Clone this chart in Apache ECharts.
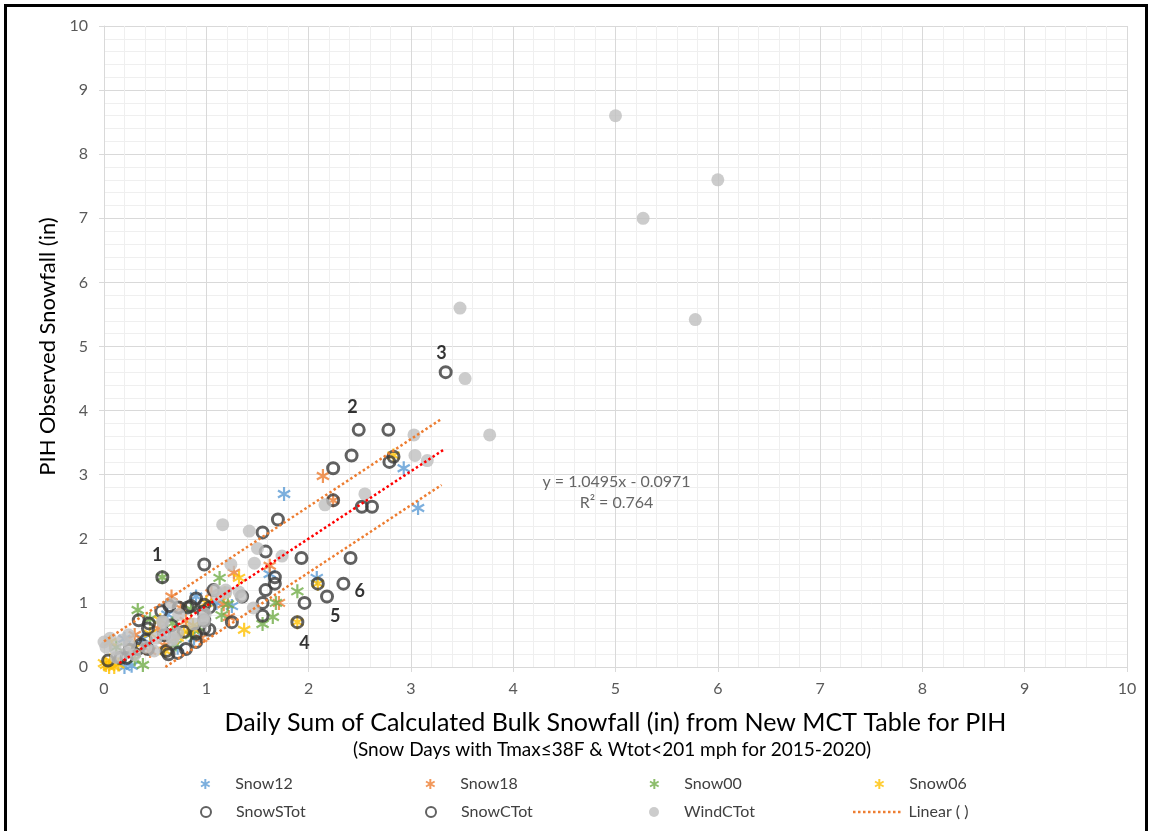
<!DOCTYPE html>
<html>
<head>
<meta charset="utf-8">
<script src="https://cdn.jsdelivr.net/npm/echarts@6/dist/echarts.min.js"></script>
<style>
html,body{margin:0;padding:0;background:#fff;}
#chart{width:1149px;height:831px;}
</style>
</head>
<body>
<div id="chart"></div>
<script>
// ---- data ----
const xTicks = [0,1,2,3,4,5,6,7,8,9,10];
const yTicks = [0,1,2,3,4,5,6,7,8,9,10];

const snow12 = [[2.93,3.1],[3.07,2.48],[1.76,2.7],[2.08,1.39],[0.9,1.1],[1.62,1.45],[0.88,0.45],[0.38,0.44],[0.2,0.44],[0.57,0.5],[0.2,0.0],[0.27,0.02],[1.1,1.0],[0.62,0.82],[1.25,0.95],[0.72,0.3]];
const snow18 = [[2.14,2.98],[2.24,2.6],[1.62,1.58],[1.27,1.47],[1.71,1.0],[1.17,0.98],[1.22,0.78],[0.66,1.1],[0.53,0.6],[0.59,0.34],[0.8,0.72],[0.3,0.5],[0.45,0.25],[0.95,0.45],[0.75,0.92],[1.05,1.15]];
const snow00 = [[0.57,1.4],[1.13,1.39],[1.89,1.18],[1.68,1.0],[1.65,0.78],[1.55,0.67],[1.21,0.98],[1.15,0.81],[0.33,0.89],[0.85,0.9],[0.85,0.5],[0.67,0.68],[0.38,0.03],[0.12,0.31],[0.7,0.35],[0.45,0.75],[0.92,0.62],[0.3,0.12]];
const snow06 = [[2.83,3.3],[2.09,1.3],[1.89,0.7],[1.37,0.58],[1.32,1.39],[0.87,0.6],[0.02,0.03],[0.05,0.0],[0.0,0.06],[0.1,0.0],[0.14,0.04],[0.06,0.1],[0.06,0.39],[0.55,0.73],[0.87,0.65],[0.72,0.46],[1.0,1.0],[0.45,0.52],[0.3,0.3],[0.78,0.55],[1.18,1.15],[0.6,0.25]];
const snowSTot = [[1.07,1.2],[0.9,1.07],[0.98,0.97],[1.03,0.58],[0.98,0.6],[0.98,0.73],[0.97,0.86],[0.34,0.73],[0.44,0.68],[0.43,0.6],[0.56,0.87],[0.73,0.93],[0.82,0.93],[0.66,0.65],[0.41,0.42],[0.36,0.35],[0.33,0.28],[0.43,0.28],[0.61,0.25],[0.63,0.2],[0.72,0.22],[0.8,0.28],[0.78,0.55],[0.9,0.52],[0.9,0.39],[0.04,0.1],[0.16,0.14],[0.22,0.14],[0.25,0.27],[0.59,0.5],[0.64,0.95],[0.85,0.95],[1.03,0.93]];
const snowCTot = [[3.34,4.6],[2.49,3.7],[2.78,3.7],[2.42,3.3],[2.24,3.1],[2.83,3.28],[2.79,3.2],[2.24,2.6],[2.52,2.5],[2.62,2.5],[1.7,2.3],[1.55,2.1],[1.58,1.8],[1.93,1.7],[2.41,1.7],[0.98,1.6],[1.67,1.4],[1.67,1.3],[1.58,1.2],[2.09,1.3],[2.34,1.3],[2.18,1.1],[1.96,1.0],[1.55,1.0],[1.55,0.8],[1.89,0.7],[1.25,0.7],[1.35,1.1],[0.57,1.4]];
const windCTot = [[5.0,8.6],[5.27,7.0],[6.0,7.6],[5.78,5.42],[3.48,5.6],[3.53,4.5],[3.77,3.62],[3.03,3.62],[3.04,3.3],[3.16,3.22],[2.16,2.53],[2.55,2.7],[1.16,2.22],[1.42,2.12],[1.5,1.85],[1.47,1.62],[1.74,1.73],[1.24,1.6],[1.09,1.2],[1.19,1.2],[1.32,1.17],[1.34,1.1],[1.19,1.16],[1.11,1.12],[1.46,0.92],[0.73,0.82],[0.57,0.71],[0.99,0.83],[0.98,0.71],[0.68,0.45],[0.0,0.39],[0.06,0.45],[0.18,0.42],[0.24,0.5],[0.11,0.28],[0.22,0.22],[0.3,0.19],[0.02,0.31],[0.58,0.7],[0.51,0.45],[0.67,0.42],[0.72,0.53],[0.59,0.52],[0.41,0.31],[0.49,0.25],[0.66,1.0],[0.88,0.67],[0.97,0.75],[0.12,0.15],[0.25,0.35]];

// trend line end points
const trendCenter = [[0.15,0.06],[3.33,3.4]];
const trendUpper = [[0.0,0.4],[3.29,3.86]];
const trendLower = [[0.6,0.0],[3.3,2.84]];

// annotations
const pointLabels = [[0.52,1.75,'1'],[2.43,4.05,'2'],[3.3,4.89,'3'],[1.96,0.37,'4'],[2.26,0.8,'5'],[2.5,1.19,'6']];
const equationLabels = [[5.01,2.89,'y = 1.0495x - 0.0971'],[5.01,2.56,'R² = 0.764']];

const xTitle = 'Daily Sum of Calculated Bulk Snowfall (in) from New MCT Table for PIH';
const xSubtitle = '(Snow Days with Tmax≤38F & Wtot<201 mph for 2015-2020)';
const yTitle = 'PIH Observed Snowfall (in)';

// ---- styling ----
const FONT = 'Lato, "Open Sans", sans-serif';
const ASTER = 'path://M5,0L5,10M0.67,2.5L9.33,7.5M0.67,7.5L9.33,2.5';
const DOTS = 'path://' + Array.from({length:10}, (_, i) => 'M' + (i*5) + ',0h2.5v2.5h-2.5z').join('');

function starSeries(name, data, color){
  return {name, type:'scatter', data, symbol:ASTER, symbolSize:14, symbolKeepAspect:true,
    itemStyle:{color:'rgba(0,0,0,0)', borderColor:color, borderWidth:2.2}};
}
function ringSeries(name, data){
  return {name, type:'scatter', data, symbol:'circle', symbolSize:11,
    itemStyle:{color:'rgba(0,0,0,0)', borderColor:'#3A3A3A', borderWidth:3}};
}

const series = [
  starSeries('Snow12', snow12, '#5B9BD5'),
  starSeries('Snow18', snow18, '#ED7D31'),
  starSeries('Snow00', snow00, '#70AD47'),
  starSeries('Snow06', snow06, '#FFC000'),
  ringSeries('SnowSTot', snowSTot),
  ringSeries('SnowCTot', snowCTot),
  {name:'WindCTot', type:'scatter', data:windCTot, symbol:'circle', symbolSize:13,
    itemStyle:{color:'#BFBFBF'}},
  {name:'Linear ( )', type:'line', data:trendUpper, symbol:'none', silent:true,
    lineStyle:{color:'#ED7D31', width:2.5, type:[2.5,2.5], cap:'butt'}, itemStyle:{color:'#ED7D31'}},
  {name:'Linear ( )', type:'line', data:trendLower, symbol:'none', silent:true,
    lineStyle:{color:'#ED7D31', width:2.5, type:[2.5,2.5], cap:'butt'}, itemStyle:{color:'#ED7D31'}},
  {name:'trend', type:'line', data:trendCenter, symbol:'none', silent:true,
    lineStyle:{color:'#FF0000', width:2.5, type:[2.5,2.5], cap:'butt'}},
  {name:'labels', type:'scatter', symbolSize:0, silent:true, z:5,
    data:pointLabels.map(d=>({value:[d[0],d[1]], name:d[2]})),
    label:{show:true, formatter:p=>p.name, position:'inside', color:'#000', fontSize:18, fontWeight:'bold', fontFamily:FONT}},
  {name:'equation', type:'scatter', symbolSize:0, silent:true,
    data:equationLabels.map(d=>({value:[d[0],d[1]], name:d[2]})),
    label:{show:true, formatter:p=>p.name, position:'inside', color:'#404040', fontSize:16, fontFamily:FONT}}
];

const legendCols = [205, 430, 654, 879];
const legendRows = [776, 804];
const legendItems = [['Snow12',0,0],['Snow18',1,0],['Snow00',2,0],['Snow06',3,0],
                     ['SnowSTot',0,1],['SnowCTot',1,1],['WindCTot',2,1]];
const legends = legendItems.map(([n,c,r])=>({
  data:[n], left:legendCols[c]-5, top:legendRows[r], padding:0,
  itemWidth:10, itemHeight:10, selectedMode:false,
  textStyle:{color:'#404040', fontSize:16, fontFamily:FONT, padding:[0,0,0,20]}
}));
legends.push({data:[{name:'Linear ( )', icon:DOTS}], left:853, top:legendRows[1], padding:0,
  itemWidth:47.5, itemHeight:2.5, selectedMode:false,
  textStyle:{color:'#404040', fontSize:16, fontFamily:FONT, padding:[0,0,0,3]}});

const axisCommon = {
  min:0, max:10, interval:1,
  axisLine:{show:true, lineStyle:{color:'#D9D9D9', width:1}},
  axisTick:{show:true, length:5, lineStyle:{color:'#D9D9D9'}},
  splitLine:{show:true, lineStyle:{color:'#D9D9D9', width:1}},
  minorTick:{show:false, splitNumber:5},
  minorSplitLine:{show:true, lineStyle:{color:'#EFEFEF', width:1}}
};

const chart = echarts.init(document.getElementById('chart'), null, {renderer:'canvas'});
chart.setOption({
  animation:false,
  backgroundColor:'#fff',
  grid:{left:104, right:22, top:26, bottom:164, containLabel:false},
  xAxis:Object.assign({type:'value', name:xTitle, nameLocation:'middle', nameGap:43,
    nameTextStyle:{color:'#000', fontSize:25, fontFamily:FONT},
    axisLabel:{color:'#595959', fontSize:16, fontFamily:FONT, margin:14, formatter:v=>xTicks.includes(v)?String(v):''}}, axisCommon),
  yAxis:Object.assign({type:'value', name:yTitle, nameLocation:'middle', nameGap:45,
    nameTextStyle:{color:'#000', fontSize:22, fontFamily:FONT},
    axisLabel:{color:'#595959', fontSize:16, fontFamily:FONT, margin:16, formatter:v=>yTicks.includes(v)?String(v):''}}, axisCommon),
  legend:legends,
  series:series,
  graphic:[
    {type:'rect', shape:{x:5.5, y:5.5, width:1141, height:845}, style:{fill:'none', stroke:'#000', lineWidth:3}, silent:true},
    {type:'text', x:612, y:750, style:{text:xSubtitle, fill:'#000', font:'19px '+FONT, textAlign:'center', textVerticalAlign:'middle'}, silent:true}
  ]
});
</script>
</body>
</html>
